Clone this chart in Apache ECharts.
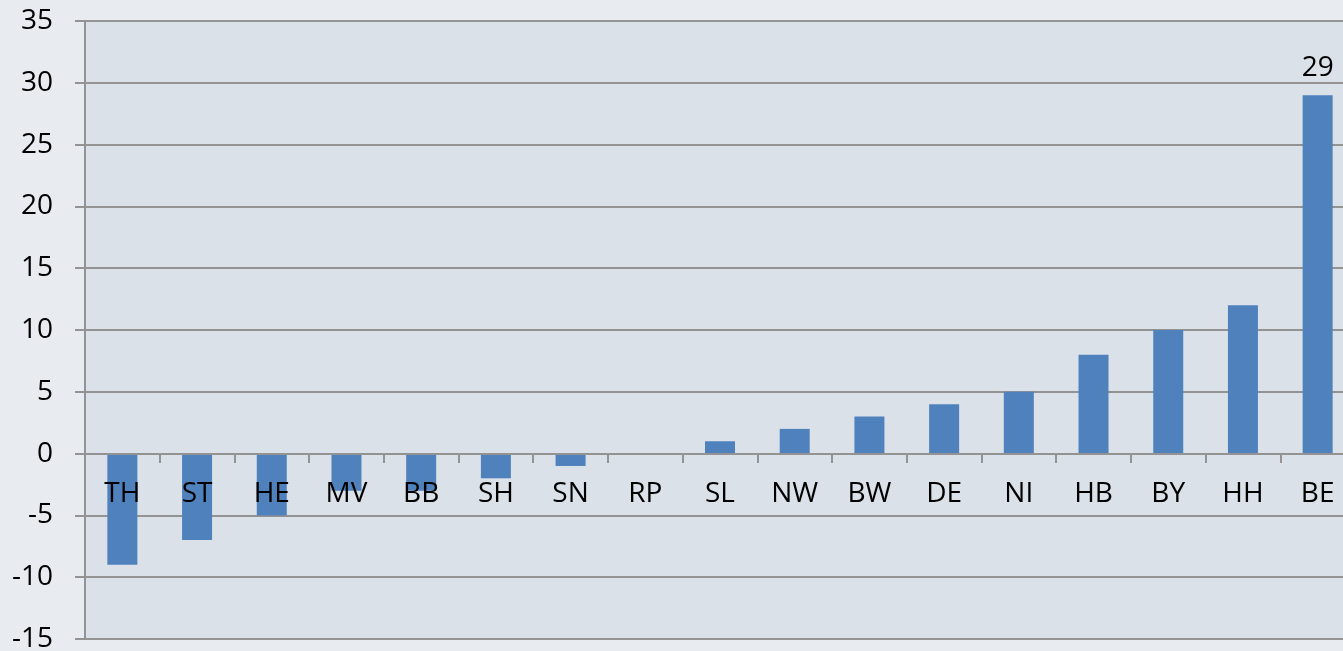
<!DOCTYPE html>
<html>
<head>
<meta charset="utf-8">
<script src="https://cdn.jsdelivr.net/npm/echarts@6/dist/echarts.min.js"></script>
<style>
  html, body { margin: 0; padding: 0; background: #e8ecf0; }
  #chart { width: 1343px; height: 651px; }
</style>
</head>
<body>
<div id="chart"></div>
<script>
// Bundesländer, sortiert
var categories = ["TH", "ST", "HE", "MV", "BB", "SH", "SN", "RP", "SL", "NW", "BW", "DE", "NI", "HB", "BY", "HH", "BE"];
var values = [-9, -7, -5, -3, -3, -2, -1, 0, 1, 2, 3, 4, 5, 8, 10, 12, 29];
var labelledCategory = "BE"; // nur dieser Balken hat ein Wertlabel

var font = "'Open Sans', 'Noto Sans', sans-serif";
var gridColor = "#939393";

var yMin = -15, yMax = 35;
var gridTop = 21, gridHeight = 618;
// x-Achse sitzt auf der Nulllinie
var zeroOffset = -Math.round(gridHeight * (0 - yMin) / (yMax - yMin));

var chart = echarts.init(document.getElementById("chart"));

var seriesData = values.map(function (v, i) {
  if (categories[i] === labelledCategory) {
    return {
      value: v,
      label: {
        show: true,
        position: "top",
        distance: 13,
        color: "#000",
        fontSize: 28,
        fontFamily: font
      }
    };
  }
  return v;
});

var option = {
  backgroundColor: "#e8ecf0",
  animation: false,
  grid: {
    left: 85,
    top: gridTop,
    width: 1270, // rechter Rand liegt ausserhalb des Bildes
    height: gridHeight,
    outerBoundsMode: "none",
    containLabel: false,
    show: true,
    backgroundColor: "#dae1e8",
    borderWidth: 0
  },
  xAxis: {
    type: "category",
    data: categories,
    boundaryGap: true,
    position: "bottom",
    offset: zeroOffset,
    z: 10, // Beschriftung liegt über den Balken
    axisLine: {
      onZero: false,
      lineStyle: { color: gridColor, width: 2 }
    },
    axisTick: {
      show: true,
      length: 9,
      lineStyle: { color: gridColor, width: 2 }
    },
    axisLabel: {
      interval: 0,
      margin: 26,
      color: "#000",
      fontSize: 28,
      fontFamily: font
    },
    splitLine: { show: false }
  },
  yAxis: {
    type: "value",
    min: yMin,
    max: yMax,
    interval: 5,
    axisLine: {
      show: true,
      lineStyle: { color: gridColor, width: 2 }
    },
    axisTick: {
      show: true,
      length: 10,
      lineStyle: { color: gridColor, width: 2 }
    },
    axisLabel: {
      margin: 32,
      color: "#000",
      fontSize: 28,
      fontFamily: font
    },
    splitLine: {
      show: true,
      lineStyle: { color: gridColor, width: 2 }
    }
  },
  series: [
    {
      type: "bar",
      data: seriesData,
      barWidth: 30,
      itemStyle: { color: "#4f81bd" }
    }
  ]
};

chart.setOption(option);
</script>
</body>
</html>
